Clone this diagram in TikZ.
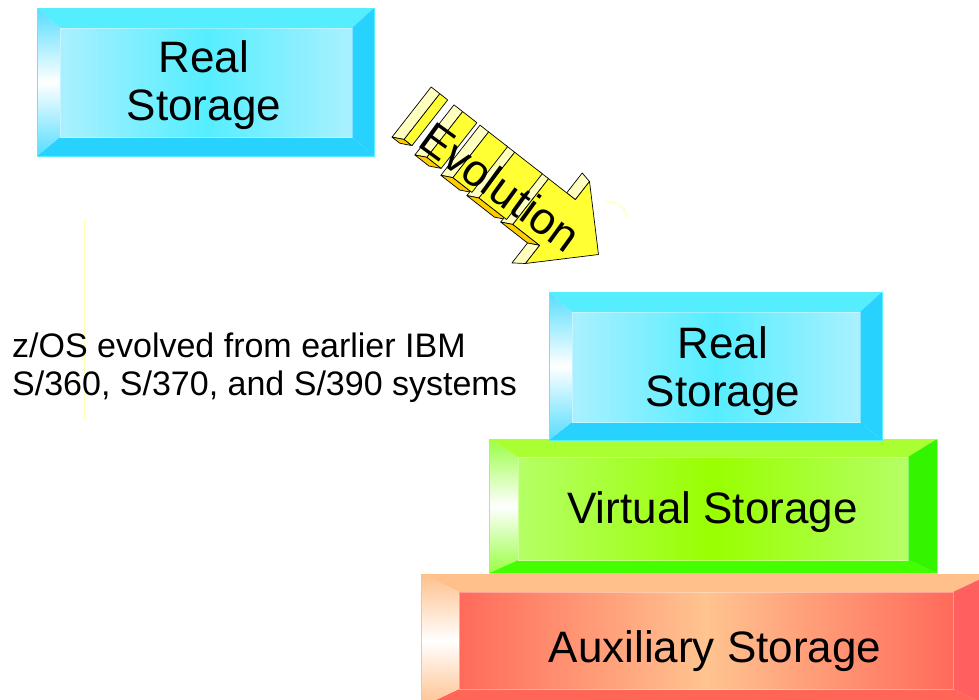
\documentclass[tikz,border=0pt]{standalone}
\usepackage{fontspec}
\setmainfont{Liberation Sans}
\definecolor{bltop}{HTML}{55EEFF}
\definecolor{blbot}{HTML}{28D2FF}
\definecolor{blright}{HTML}{28D2FF}
\definecolor{blleft}{HTML}{55DDFF}
\definecolor{bledge}{HTML}{AAF0FF}
\definecolor{blmid}{HTML}{55EEFF}
\definecolor{gntop}{HTML}{AAFF33}
\definecolor{gnbot}{HTML}{44FF00}
\definecolor{gnright}{HTML}{33F500}
\definecolor{gnleft}{HTML}{99FF44}
\definecolor{gnedge}{HTML}{B5FF66}
\definecolor{gnmid}{HTML}{99FF00}
\definecolor{rdtop}{HTML}{FFC08C}
\definecolor{rdbot}{HTML}{FF6657}
\definecolor{rdright}{HTML}{FF5F5F}
\definecolor{rdleft}{HTML}{FFC08C}
\definecolor{rdedge}{HTML}{FF6A5A}
\definecolor{rdmid}{HTML}{FFC490}
\definecolor{evyellow}{HTML}{FFFF33}
\definecolor{evlight}{HTML}{FFFFC0}
\definecolor{evorange}{HTML}{FFCC00}
\definecolor{faintyellow}{HTML}{FFFFB0}
% bevelled box: outer x1,y1,x2,y2 ; inner x1,y1,x2,y2 ; colour prefix (screen y downwards)
\newcommand\bevbox[9]{%
  \fill[#9top] (#1,-#2) -- (#3,-#2) -- (#7,-#6) -- (#5,-#6) -- cycle;
  \fill[#9bot] (#1,-#4) -- (#3,-#4) -- (#7,-#8) -- (#5,-#8) -- cycle;
  \fill[#9right] (#3,-#2) -- (#3,-#4) -- (#7,-#8) -- (#7,-#6) -- cycle;
  \shade[top color=#9left, bottom color=#9left, middle color=white]
    (#1,-#2) -- (#5,-#6) -- (#5,-#8) -- (#1,-#4) -- cycle;
  \shade[left color=#9edge, right color=#9edge, middle color=#9mid]
    (#5,-#6) rectangle (#7,-#8);
  \draw[white, opacity=0.35, line width=0.8pt] (#5,-#6) rectangle (#7,-#8);
  \draw[#9top, line width=0.6pt] (#1,-#2) rectangle (#3,-#4);
}
\newcommand\evside[2]{%
  \filldraw[evface, fill=evlight] (#1,-29) -- (#1,29) -- ({#1-11},29) -- ({#1-11},-34.6) -- cycle;
  \filldraw[evface, fill=evorange] (#1,-29) -- (#2,-29) -- ({#2-11},-34.6) -- ({#1-11},-34.6) -- cycle;
}
\newcommand\evfront[2]{%
  \filldraw[evface, fill=evyellow] (#1,-29) rectangle (#2,29);
}
\begin{document}
\begin{tikzpicture}[x=1pt,y=1pt,
  lbl/.style={inner sep=0pt, font=\fontsize{44}{48}\selectfont, align=center},
  note/.style={inner sep=0pt, font=\fontsize{34}{37.7}\selectfont, align=left},
  evface/.style={draw=black, line width=0.7pt, line join=round},
  faint/.style={draw=faintyellow, line width=1pt}]
\useasboundingbox (0,0) rectangle (979,-699);
\clip (0,0) rectangle (979,-699);
\fill[white] (0,0) rectangle (979,-699);

% faint marks
\draw[faint] (84,-219) -- (84,-420);
\draw[faint] (605,-201.7) .. controls (618,-201.7) and (626.7,-208) .. (626.7,-218.3);

% storage boxes
\bevbox{421}{574}{991}{707}{459}{592}{953}{689}{rd}
\bevbox{489}{439}{937}{573}{518}{457}{908}{560}{gn}
\bevbox{549}{292}{882}{440}{572}{312}{860}{422}{bl}
\bevbox{37}{8}{374}{156}{60}{28}{352}{137}{bl}

\node[lbl] (real1) at (204,-85.6) {Real\\Storage};
\node[lbl] (real2) at (723,-371) {Real\\Storage};
\node[lbl, anchor=base] (virt) at (712.5,-523.3) {Virtual Storage};
\node[lbl, anchor=base] (aux) at (715,-662) {Auxiliary Storage};

\node[note, anchor=north west] (txt) at (12,-333)
  {z/OS evolved from earlier IBM\\S/360, S/370, and S/390 systems};

% Evolution arrow
\begin{scope}[shift={(557.5,-222.5)}, rotate=-38]
  \evside{-172}{-162}
  \evside{-143}{-125}
  \evside{-110}{-86}
  \evside{-77}{-42}
  \evside{-34}{0}
  \filldraw[evface, fill=evlight] (0,29) -- (0,52) -- (-11,54.2) -- (-11,29) -- cycle;
  \filldraw[evface, fill=evlight] (0,-29) -- (0,-52) -- (-11,-59.9) -- (-11,-34.6) -- cycle;
  \evfront{-172}{-162}
  \evfront{-143}{-125}
  \evfront{-110}{-86}
  \evfront{-77}{-42}
  \filldraw[evface, fill=evyellow] (-34,-29) -- (0,-29) -- (0,-52) -- (52,0)
     -- (0,52) -- (0,29) -- (-34,29) -- cycle;
  \node[rotate=-36, inner sep=0pt, font=\fontsize{45}{48}\selectfont] (evo) at (-67,-7) {Evolution};
\end{scope}
\end{tikzpicture}
\end{document}
